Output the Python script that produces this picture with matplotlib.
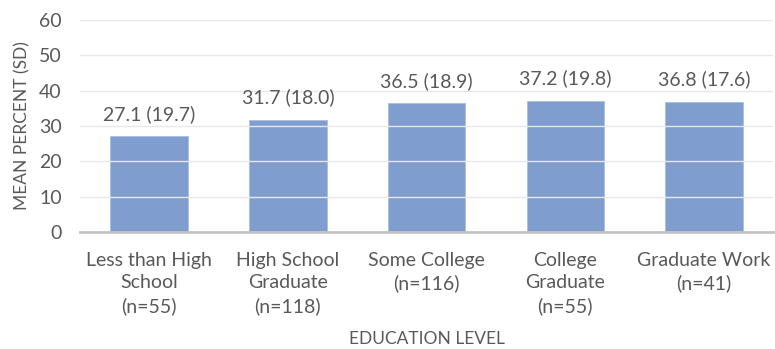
import matplotlib.pyplot as plt
import numpy as np

plt.rcParams['font.family'] = ['Lato', 'DejaVu Sans']

categories = ["Less than High\nSchool\n(n=55)", "High School\nGraduate\n(n=118)",
              "Some College\n(n=116)", "College\nGraduate\n(n=55)", "Graduate Work\n(n=41)"]
means = [27.1, 31.7, 36.5, 37.2, 36.8]
sds = [19.7, 18.0, 18.9, 19.8, 17.6]

gray = "#595959"

fig = plt.figure(figsize=(7.75, 3.49), dpi=100)
ax = fig.add_axes([0.103, 0.335, 0.895, 0.608])

x = np.arange(len(categories))
bars = ax.bar(x, means, 0.56, color="#7F9DCE", edgecolor="#A9BEE3", linewidth=0.6, zorder=2)
for xi, m, s in zip(x, means, sds):
    ax.text(xi, m + 6.3, f"{m:.1f} ({s:.1f})", ha="center", va="center", fontsize=14, color=gray)

ax.set_ylim(0, 60)
ax.set_xlim(-0.5, len(categories) - 0.5)
ax.set_yticks(range(0, 61, 10))
ax.yaxis.grid(True, color="#E8E8E8", linewidth=1, zorder=3)
ax.set_axisbelow(False)
for sp in ["top", "right", "left"]:
    ax.spines[sp].set_visible(False)
ax.spines["bottom"].set_color("#C4C4C4")
ax.spines["bottom"].set_linewidth(2)
ax.spines["bottom"].set_zorder(4)
ax.tick_params(axis="both", length=0, labelsize=14, labelcolor=gray)
ax.tick_params(axis="y", pad=13)
ax.tick_params(axis="x", pad=14)
ax.set_xticks(x)
ax.set_xticklabels(categories, linespacing=1.39)
ax.set_ylabel("MEAN PERCENT (SD)", fontsize=12.5, color=gray, labelpad=6)
ax.set_xlabel("EDUCATION LEVEL", fontsize=12.5, color=gray, labelpad=12)

fig.savefig("out.png", dpi=100)
